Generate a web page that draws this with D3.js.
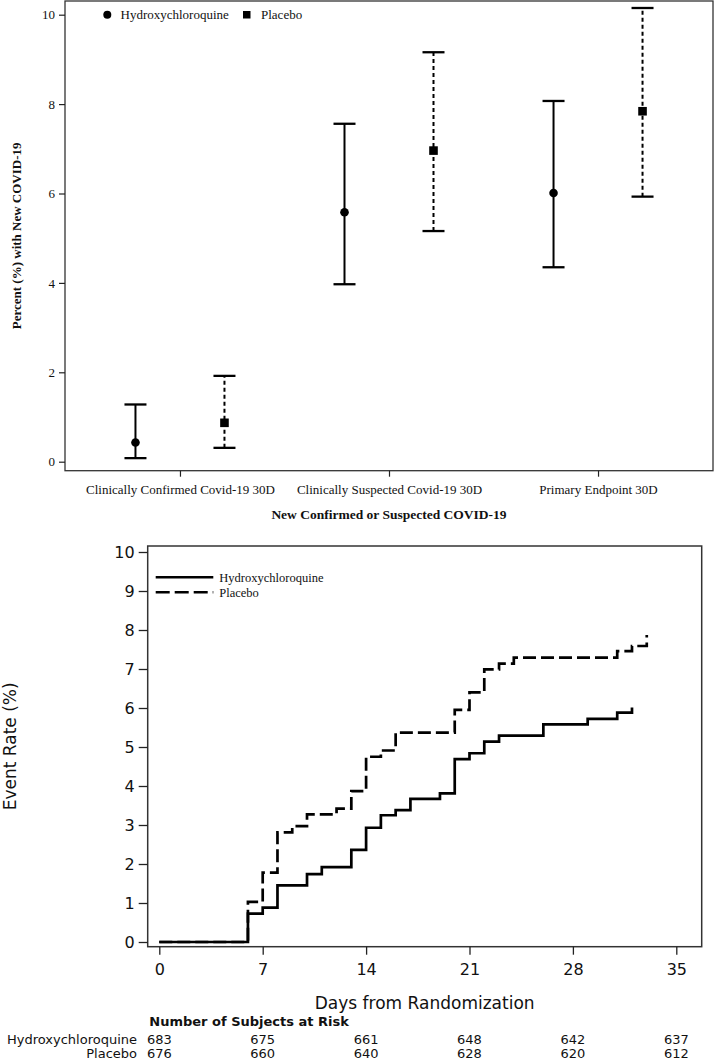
<!DOCTYPE html>
<html>
<head>
<meta charset="utf-8">
<script src="https://cdn.jsdelivr.net/npm/d3@7"></script>
<style>
  html, body { margin: 0; padding: 0; background: #fff; }
  svg { display: block; }
</style>
</head>
<body>
<svg id="chart" width="714" height="1061"></svg>
<script>
// ---------- Data: top panel (percent with new COVID-19, 95% CI) ----------
const categories = ["Clinically Confirmed Covid-19 30D", "Clinically Suspected Covid-19 30D", "Primary Endpoint 30D"];
const groups = ["Hydroxychloroquine", "Placebo"];
const hcqEstimate = [0.43, 5.58, 6.01];
const hcqLower    = [0.08, 3.97, 4.35];
const hcqUpper    = [1.28, 7.56, 8.07];
const pboEstimate = [0.87, 6.96, 7.84];
const pboLower    = [0.31, 5.16, 5.93];
const pboUpper    = [1.92, 9.16, 10.15];
const topYTicks = [0, 2, 4, 6, 8, 10];

// ---------- Data: bottom panel (cumulative event rate, %) ----------
const hcqDays  = [0, 6, 7, 8, 10, 11, 13, 14, 15, 16, 17, 19, 20, 21, 22, 23, 26, 29, 31, 32];
const hcqRate  = [0, 0.73, 0.88, 1.45, 1.74, 1.92, 2.36, 2.93, 3.25, 3.38, 3.67, 3.81, 4.69, 4.84, 5.14, 5.29, 5.58, 5.72, 5.88, 6.01];
const pboDays  = [0, 6, 7, 8, 9, 10, 12, 13, 14, 15, 16, 20, 21, 22, 23, 24, 31, 32, 33];
const pboRate  = [0, 1.03, 1.78, 2.81, 2.97, 3.27, 3.42, 3.87, 4.75, 4.91, 5.37, 5.95, 6.40, 6.99, 7.14, 7.29, 7.46, 7.59, 7.87];
const dayTicks = [0, 7, 14, 21, 28, 35];
const rateTicks = [0, 1, 2, 3, 4, 5, 6, 7, 8, 9, 10];
const atRiskHcq = [683, 675, 661, 648, 642, 637];
const atRiskPbo = [676, 660, 640, 628, 620, 612];

const svg = d3.select("#chart");
const serif = "'Liberation Serif', 'Times New Roman', serif";
const sans = "'DejaVu Sans', sans-serif";

// =================== TOP PANEL ===================
(function () {
  const L = 65, R = 713, T = 1, B = 470.7;
  const x = d3.scalePoint().domain(categories).range([L, R]).padding(0.55);
  const y = d3.scaleLinear().domain([0, 10]).range([461.7, 14.7]);
  const off = d3.scaleOrdinal().domain(groups).range([-44.5, 44.5]);
  const g = svg.append("g");

  g.append("rect").attr("x", L).attr("y", T).attr("width", R - L).attr("height", B - T)
    .attr("fill", "none").attr("stroke", "#333").attr("stroke-width", 1.3);

  // y axis
  const ya = g.append("g").attr("transform", `translate(${L},0)`)
    .call(d3.axisLeft(y).tickValues(topYTicks).tickSize(6).tickPadding(4).tickFormat(d3.format("d")));
  ya.select(".domain").remove();
  ya.selectAll("line").attr("stroke", "#222").attr("stroke-width", 1.2);
  ya.selectAll("text").attr("font-family", serif).attr("font-size", 13).attr("fill", "#111");

  // x axis
  const xa = g.append("g").attr("transform", `translate(0,${B})`)
    .call(d3.axisBottom(x).tickSize(6).tickPadding(8));
  xa.select(".domain").remove();
  xa.selectAll("line").attr("stroke", "#222").attr("stroke-width", 1.2);
  xa.selectAll("text").attr("font-family", serif).attr("font-size", 13).attr("fill", "#111");

  // titles
  g.append("text").attr("transform", `translate(21,${(T + B) / 2}) rotate(-90)`)
    .attr("text-anchor", "middle").attr("font-family", serif).attr("font-weight", "bold")
    .attr("font-size", 13).attr("fill", "#111").text("Percent (%) with New COVID-19");
  g.append("text").attr("x", (L + R) / 2).attr("y", 519)
    .attr("text-anchor", "middle").attr("font-family", serif).attr("font-weight", "bold")
    .attr("font-size", 13.5).attr("fill", "#111").text("New Confirmed or Suspected COVID-19");

  const rows = [];
  categories.forEach((c, i) => {
    rows.push({ c, grp: groups[0], est: hcqEstimate[i], lo: hcqLower[i], hi: hcqUpper[i] });
    rows.push({ c, grp: groups[1], est: pboEstimate[i], lo: pboLower[i], hi: pboUpper[i] });
  });
  const cx = d => x(d.c) + off(d.grp);
  const cap = 11;

  const eb = g.selectAll(".eb").data(rows).enter().append("g");
  eb.append("line").attr("x1", cx).attr("x2", cx).attr("y1", d => y(d.lo)).attr("y2", d => y(d.hi))
    .attr("stroke", "#000").attr("stroke-width", 2)
    .attr("stroke-dasharray", d => d.grp === "Placebo" ? "4,3" : null);
  eb.append("line").attr("x1", d => cx(d) - cap).attr("x2", d => cx(d) + cap)
    .attr("y1", d => y(d.hi)).attr("y2", d => y(d.hi)).attr("stroke", "#000").attr("stroke-width", 2.3);
  eb.append("line").attr("x1", d => cx(d) - cap).attr("x2", d => cx(d) + cap)
    .attr("y1", d => y(d.lo)).attr("y2", d => y(d.lo)).attr("stroke", "#000").attr("stroke-width", 2.3);
  eb.filter(d => d.grp === "Hydroxychloroquine").append("circle")
    .attr("cx", cx).attr("cy", d => y(d.est)).attr("r", 4.3).attr("fill", "#000");
  eb.filter(d => d.grp === "Placebo").append("rect")
    .attr("x", d => cx(d) - 4.3).attr("y", d => y(d.est) - 4.3).attr("width", 8.6).attr("height", 8.6).attr("fill", "#000");

  // legend
  const lg = g.append("g");
  lg.append("circle").attr("cx", 107.3).attr("cy", 14.7).attr("r", 4).attr("fill", "#000");
  lg.append("text").attr("x", 120.5).attr("y", 19.2).attr("font-family", serif).attr("font-size", 13)
    .attr("fill", "#111").text(groups[0]);
  lg.append("rect").attr("x", 243).attr("y", 11).attr("width", 7.5).attr("height", 7.5).attr("fill", "#000");
  lg.append("text").attr("x", 261).attr("y", 19.2).attr("font-family", serif).attr("font-size", 13)
    .attr("fill", "#111").text(groups[1]);
})();

// =================== BOTTOM PANEL ===================
(function () {
  const L = 147.7, R = 701.7, T = 546, B = 946.7;
  const x = d3.scaleLinear().domain([0, 35]).range([159.3, 676.3]);
  const y = d3.scaleLinear().domain([0, 10]).range([942, 552]);
  const g = svg.append("g");

  g.append("rect").attr("x", L).attr("y", T).attr("width", R - L).attr("height", B - T)
    .attr("fill", "none").attr("stroke", "#333").attr("stroke-width", 1.5);

  const ya = g.append("g").attr("transform", `translate(${L},0)`)
    .call(d3.axisLeft(y).tickValues(rateTicks).tickSize(9).tickPadding(4).tickFormat(d3.format("d")));
  ya.select(".domain").remove();
  ya.selectAll("line").attr("stroke", "#222").attr("stroke-width", 1.3);
  ya.selectAll("text").attr("font-family", sans).attr("font-size", 16).attr("fill", "#111");

  const xa = g.append("g").attr("transform", `translate(0,${B})`)
    .call(d3.axisBottom(x).tickValues(dayTicks).tickSize(8).tickPadding(9).tickFormat(d3.format("d")));
  xa.select(".domain").remove();
  xa.selectAll("line").attr("stroke", "#222").attr("stroke-width", 1.3);
  xa.selectAll("text").attr("font-family", sans).attr("font-size", 16).attr("fill", "#111");

  g.append("text").attr("x", (L + R) / 2).attr("y", 1009)
    .attr("text-anchor", "middle").attr("font-family", sans).attr("font-size", 17)
    .attr("fill", "#111").text("Days from Randomization");
  g.append("text").attr("transform", `translate(16,${(T + B) / 2}) rotate(-90)`)
    .attr("text-anchor", "middle").attr("font-family", sans).attr("font-size", 17)
    .attr("fill", "#111").text("Event Rate (%)");

  const line = d3.line().x(d => x(d[0])).y(d => y(d[1])).curve(d3.curveStepAfter);
  const hcq = hcqDays.map((d, i) => [d, hcqRate[i]]);
  const pbo = pboDays.map((d, i) => [d, pboRate[i]]);
  g.append("path").attr("d", line(pbo)).attr("fill", "none").attr("stroke", "#000")
    .attr("stroke-width", 2.7).attr("stroke-dasharray", "13,5");
  g.append("path").attr("d", line(hcq)).attr("fill", "none").attr("stroke", "#000")
    .attr("stroke-width", 2.7);

  // legend
  g.append("line").attr("x1", 155.7).attr("x2", 213.3).attr("y1", 577.3).attr("y2", 577.3)
    .attr("stroke", "#000").attr("stroke-width", 2.5);
  g.append("line").attr("x1", 155.7).attr("x2", 213.3).attr("y1", 592.3).attr("y2", 592.3)
    .attr("stroke", "#000").attr("stroke-width", 2.5).attr("stroke-dasharray", "14,5");
  g.append("text").attr("x", 219.3).attr("y", 581.5).attr("font-family", serif).attr("font-size", 12.5)
    .attr("fill", "#111").text(groups[0]);
  g.append("text").attr("x", 219.3).attr("y", 596.5).attr("font-family", serif).attr("font-size", 12.5)
    .attr("fill", "#111").text(groups[1]);

  // at-risk table
  g.append("text").attr("x", 149.3).attr("y", 1025.5).attr("font-family", sans).attr("font-weight", "bold")
    .attr("font-size", 13).attr("fill", "#111").text("Number of Subjects at Risk");
  const tbl = [{ name: groups[0], vals: atRiskHcq, yy: 1043.8 }, { name: groups[1], vals: atRiskPbo, yy: 1057.6 }];
  tbl.forEach(r => {
    g.append("text").attr("x", 137).attr("y", r.yy).attr("text-anchor", "end")
      .attr("font-family", sans).attr("font-size", 13).attr("fill", "#111").text(r.name);
    g.selectAll(null).data(r.vals).enter().append("text")
      .attr("x", (v, i) => x(dayTicks[i])).attr("y", r.yy).attr("text-anchor", "middle")
      .attr("font-family", sans).attr("font-size", 13).attr("fill", "#111").text(v => v);
  });
})();
</script>
</body>
</html>
